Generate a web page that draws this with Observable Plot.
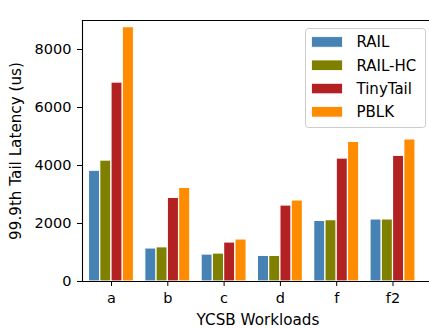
<!DOCTYPE html>
<html>
<head>
<meta charset="utf-8">
<script src="https://cdn.jsdelivr.net/npm/d3@7"></script>
<script src="https://cdn.jsdelivr.net/npm/@observablehq/plot@0.6"></script>
<style>
  body { margin: 0; background: #fff; }
  svg { font-family: "DejaVu Sans", sans-serif; }
</style>
</head>
<body>
<div id="chart"></div>
<script>
// YCSB workloads and the four systems compared
const workloads = ["a", "b", "c", "d", "f", "f2"];
const series = ["RAIL", "RAIL-HC", "TinyTail", "PBLK"];
const colors = ["#4682b4", "#808000", "#b22222", "#ff8c00"];

// 99.9th percentile tail latency (us) per workload
const rail     = [3820, 1140,  930,  885, 2090, 2140];
const railHC   = [4170, 1180,  965,  885, 2115, 2140];
const tinyTail = [6860, 2885, 1345, 2620, 4240, 4335];
const pblk     = [8770, 3230, 1450, 2795, 4815, 4900];

const yTicks = [0, 2000, 4000, 6000, 8000];

const values = [rail, railHC, tinyTail, pblk];
const barWidth = 0.2; // four bars fill 0.8 of each workload slot

const rows = [];
workloads.forEach((w, i) => {
  series.forEach((s, j) => {
    const x1 = i - 0.4 + j * barWidth;
    rows.push({ workload: w, series: s, value: values[j][i], x1, x2: x1 + barWidth });
  });
});

const xMin = -0.515, xMax = 5.648, yMax = 9000;
const fs = 14.5;      // tick labels
const labelFs = 15.2; // axis titles

const chart = Plot.plot({
  width: 429,
  height: 328,
  marginLeft: 82,
  marginRight: 0,
  marginTop: 20,
  marginBottom: 47,
  style: { fontFamily: "DejaVu Sans", fontSize: fs + "px", color: "black", background: "white" },
  x: { type: "linear", domain: [xMin, xMax] },
  y: { domain: [0, yMax] },
  color: { domain: series, range: colors },
  marks: [
    Plot.rectY(rows, { x1: "x1", x2: "x2", y1: 0, y2: "value", fill: "series", stroke: "white", strokeWidth: 1.2 }),
    Plot.axisX(workloads.map((d, i) => i), {
      tickFormat: (i) => workloads[i], tickSize: 5, tickPadding: 6.5,
      fontSize: fs, label: null, stroke: "black", fill: "black"
    }),
    Plot.axisY(yTicks, {
      tickFormat: (d) => String(d), tickSize: 5, tickPadding: 6,
      fontSize: fs, label: null, stroke: "black", fill: "black"
    }),
    // spines: left, bottom, top
    Plot.ruleX([xMin], { stroke: "black", strokeWidth: 1.1 }),
    Plot.ruleY([0], { stroke: "black", strokeWidth: 1.1 }),
    Plot.ruleY([yMax], { stroke: "black", strokeWidth: 1.1 }),
    Plot.text(["99.9th Tail Latency (us)"], {
      text: (d) => d, frameAnchor: "left", textAnchor: "middle", lineAnchor: "middle",
      rotate: -90, dx: -66, fontSize: labelFs, fill: "black"
    }),
    Plot.text(["YCSB Workloads"], {
      text: (d) => d, frameAnchor: "bottom", textAnchor: "middle", lineAnchor: "middle",
      dy: 39, dx: 2, fontSize: labelFs, fill: "black"
    })
  ]
});

// legend box in the upper right corner of the axes
const svg = d3.select(chart);
const lg = svg.append("g")
  .attr("font-family", "DejaVu Sans")
  .attr("font-size", 15)
  .attr("text-anchor", "start");
lg.append("rect")
  .attr("x", 305.5).attr("y", 28.5).attr("width", 120).attr("height", 99)
  .attr("rx", 3).attr("fill", "white").attr("fill-opacity", 0.8)
  .attr("stroke", "#cccccc").attr("stroke-width", 1);
series.forEach((s, j) => {
  const y = 36.7 + j * 23.3;
  lg.append("rect")
    .attr("x", 311.5).attr("y", y).attr("width", 31).attr("height", 10.5)
    .attr("fill", colors[j]).attr("stroke", "white").attr("stroke-width", 0.8);
  lg.append("text")
    .attr("x", 356.5).attr("y", y + 5.25).attr("dy", "0.36em")
    .attr("fill", "black").text(s);
});

document.getElementById("chart").appendChild(chart);
</script>
</body>
</html>
